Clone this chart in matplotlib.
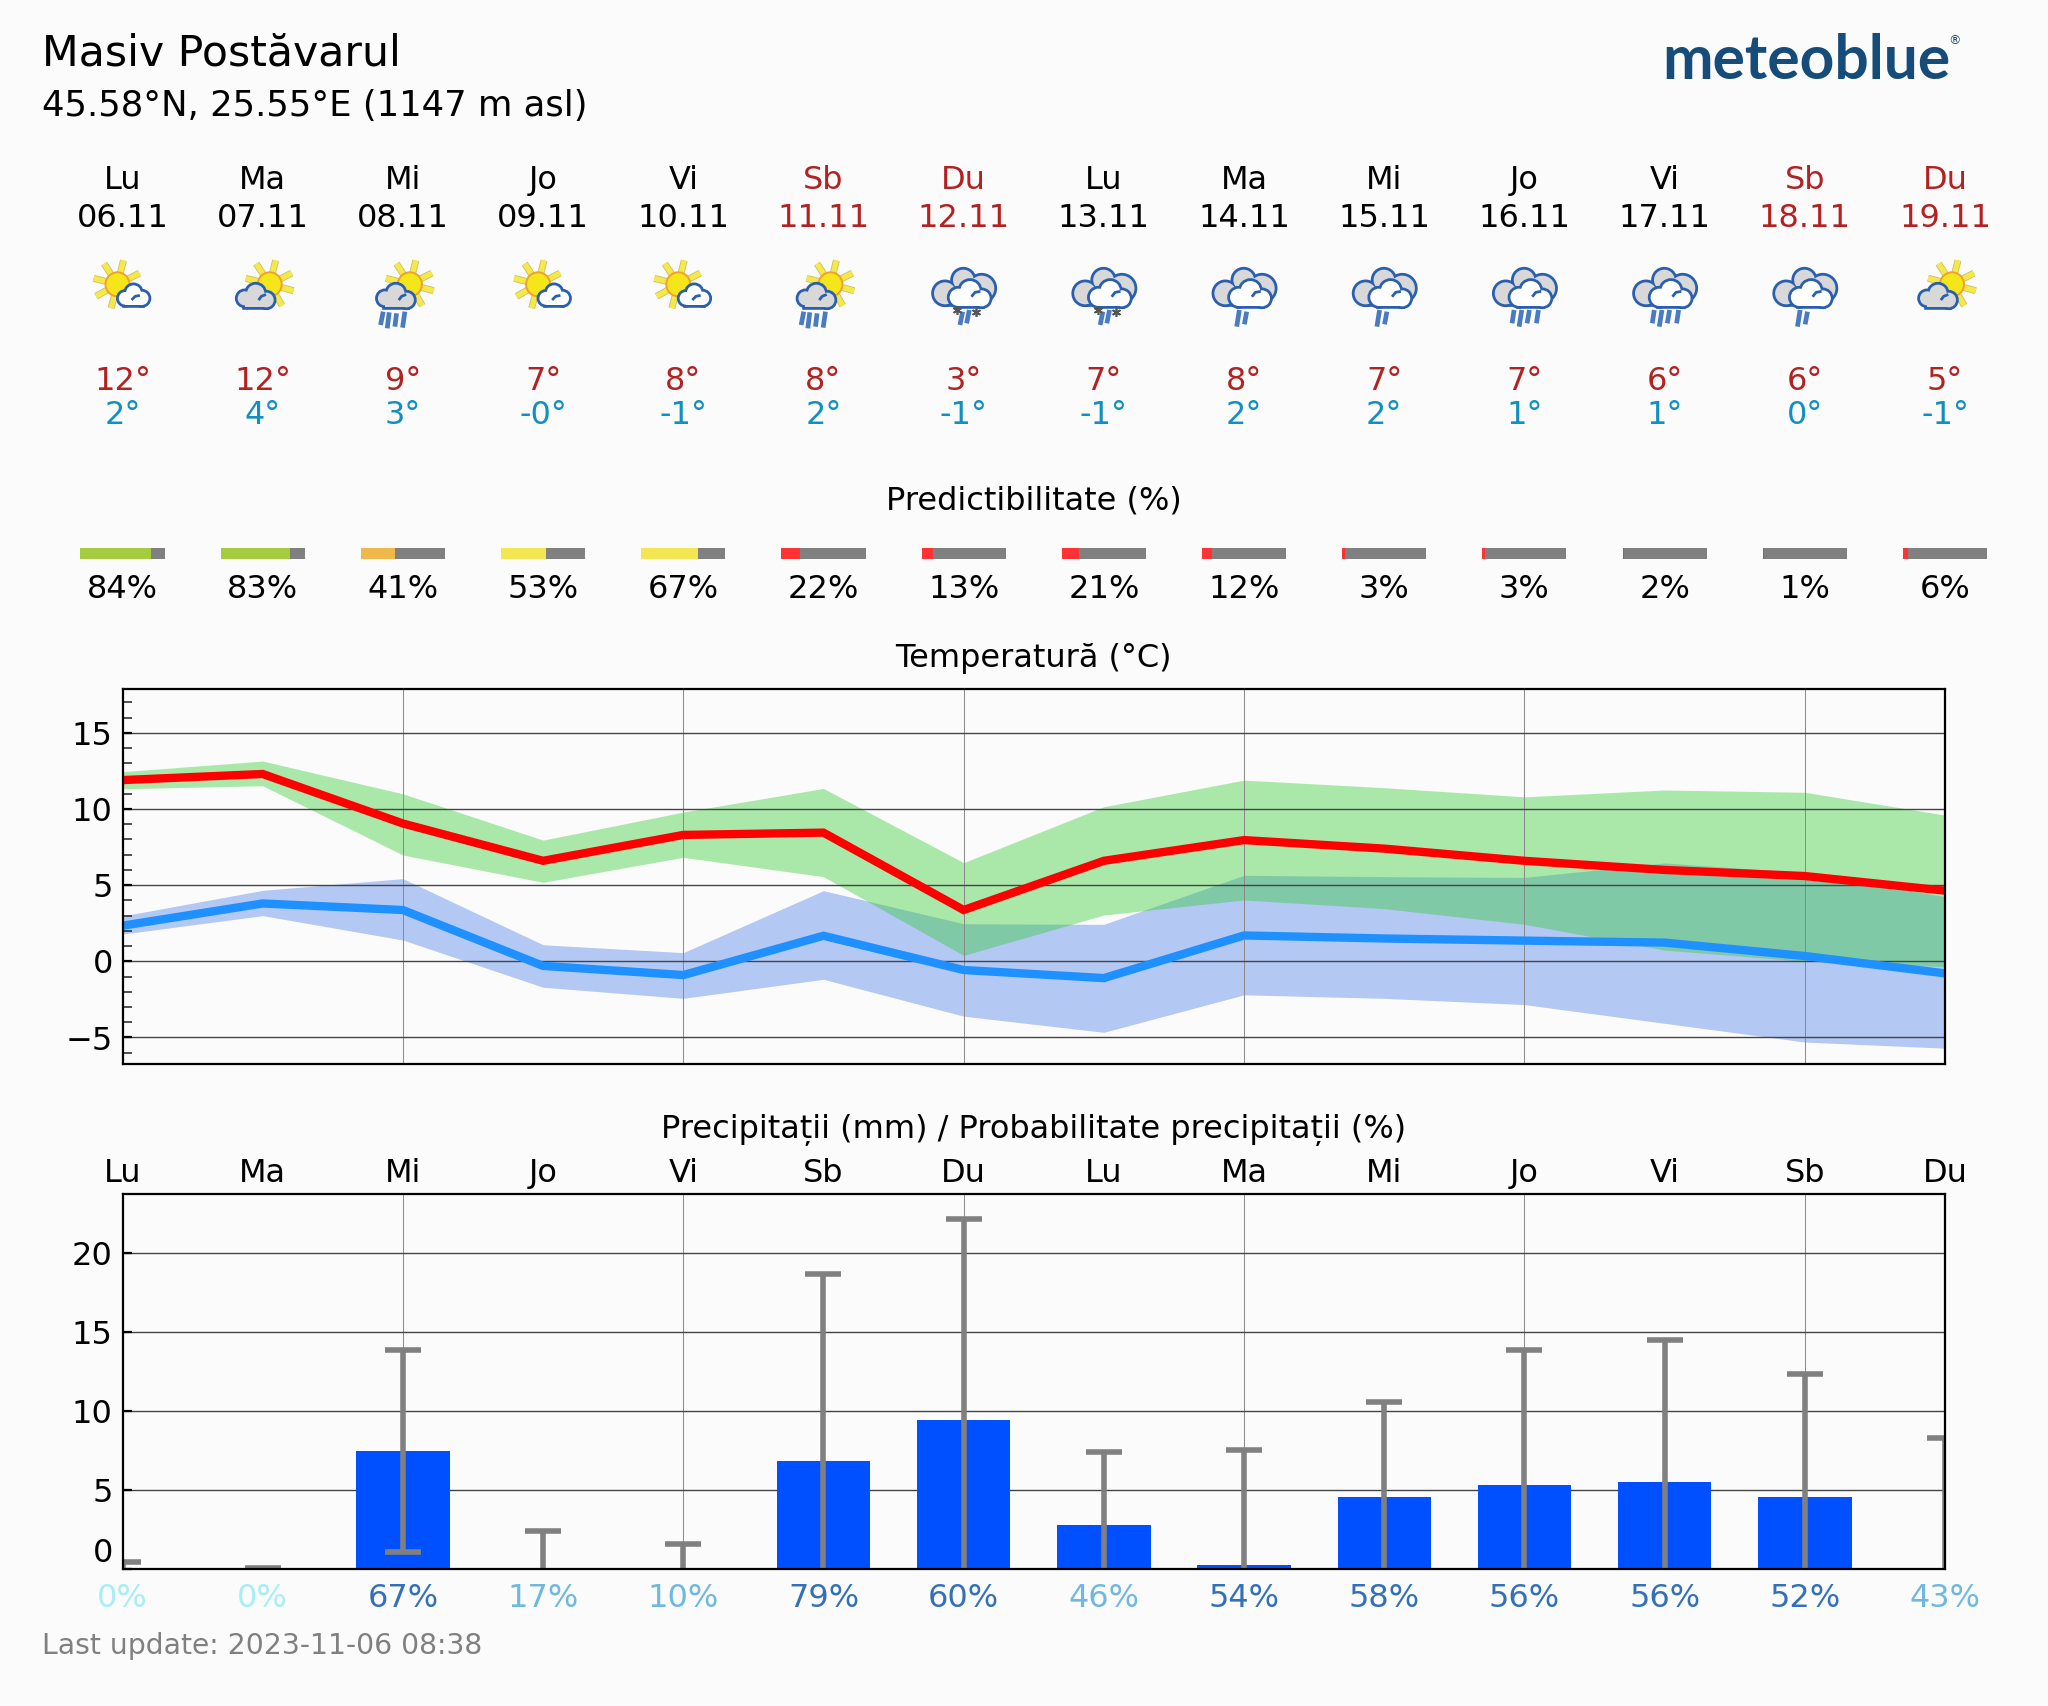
import matplotlib
matplotlib.use('Agg')
import matplotlib.pyplot as plt
from matplotlib.lines import Line2D
from matplotlib.patches import Circle, Rectangle
from matplotlib.transforms import Affine2D
import numpy as np

W, H = 2048, 1706
BG = '#fbfbfb'
FS = 11.5

days = ['Lu', 'Ma', 'Mi', 'Jo', 'Vi', 'Sb', 'Du', 'Lu', 'Ma', 'Mi', 'Jo', 'Vi', 'Sb', 'Du']
dates = ['06.11', '07.11', '08.11', '09.11', '10.11', '11.11', '12.11',
         '13.11', '14.11', '15.11', '16.11', '17.11', '18.11', '19.11']
icons = ['sun_cloud', 'cloud_sun', 'cloud_sun_rain', 'sun_cloud', 'sun_cloud', 'cloud_sun_rain', 'dark_snow',
         'dark_snow', 'dark_rain2', 'dark_rain2', 'dark_rain4', 'dark_rain4', 'dark_rain2', 'cloud_sun']
max_labels = ['12°', '12°', '9°', '7°', '8°', '8°', '3°', '7°', '8°', '7°', '7°', '6°', '6°', '5°']
min_labels = ['2°', '4°', '3°', '-0°', '-1°', '2°', '-1°', '-1°', '2°', '2°', '1°', '1°', '0°', '-1°']

predictability = [84, 83, 41, 53, 67, 22, 13, 21, 12, 3, 3, 2, 1, 6]
pred_colors = ['#a5cc3e', '#a5cc3e', '#f0b84a', '#f4e552', '#f4e552', '#ff3333', '#ff3333',
               '#ff3333', '#ff3333', '#ff3333', '#ff3333', '#ff3333', '#ff3333', '#ff3333']

tmax = [11.9, 12.3, 9.05, 6.6, 8.3, 8.45, 3.37, 6.6, 7.96, 7.4, 6.6, 6.0, 5.6, 4.64]
tmax_hi = [12.45, 13.15, 11.0, 7.96, 9.8, 11.35, 6.48, 10.15, 11.9, 11.4, 10.8, 11.25, 11.1, 9.6]
tmax_lo = [11.33, 11.53, 6.98, 5.19, 6.83, 5.56, 0.39, 3.04, 4.03, 3.46, 2.43, 0.74, 0.0, -0.35]
tmin = [2.34, 3.8, 3.37, -0.3, -0.9, 1.68, -0.57, -1.1, 1.7, 1.5, 1.36, 1.23, 0.35, -0.79]
tmin_hi = [2.98, 4.66, 5.43, 1.09, 0.57, 4.64, 2.47, 2.43, 5.65, 5.56, 5.51, 6.46, 5.82, 4.25]
tmin_lo = [1.79, 3.0, 1.4, -1.7, -2.43, -1.18, -3.6, -4.66, -2.2, -2.43, -2.84, -4.07, -5.3, -5.7]

precip = [0, 0, 7.5, 0, 0, 6.83, 9.45, 2.83, 0.27, 4.6, 5.36, 5.53, 4.58, 0]
precip_hi = [0.46, 0.06, 13.86, 2.45, 1.6, 18.67, 22.17, 7.4, 7.55, 10.57, 13.86, 14.5, 12.38, 8.33]
precip_lo = [0, 0, 1.1, 0, 0, 0, 0, 0, 0, 0, 0, 0, 0, 0]
precip_prob = [0, 0, 67, 17, 10, 79, 60, 46, 54, 58, 56, 56, 52, 43]
prob_colors = ['#a8eef5', '#a8eef5', '#3370ba', '#6fb9e0', '#6fb9e0', '#3370ba', '#3370ba',
               '#6fb9e0', '#3370ba', '#3370ba', '#3370ba', '#3370ba', '#3370ba', '#6fb9e0']

x = np.arange(14)

# panel edges in pixels
LEFT, RIGHT = 122.5, 1945
def panel(top, bottom):
    return [LEFT / W, 1 - bottom / H, (RIGHT - LEFT) / W, (bottom - top) / H]

fig = plt.figure(figsize=(W / 200, (H + 0.01) / 200), dpi=200, facecolor=BG)

# strip that shares the day scale, y in pixels from the top
strip = fig.add_axes([LEFT / W, 0, (RIGHT - LEFT) / W, 1], facecolor='none')
strip.set_xlim(0, 13)
strip.set_ylim(H, 0)
strip.axis('off')

def txt(xv, y, s, **kw):
    strip.text(xv, y, s, ha='center', va='center', fontsize=FS, clip_on=False, **kw)

for i in x:
    c = '#b22222' if days[i] in ('Sb', 'Du') else 'black'
    txt(i, 180.5, days[i], color=c)
    txt(i, 218, dates[i], color=c)
    txt(i, 381.5, max_labels[i], color='#b22222')
    txt(i, 415.5, min_labels[i], color='#1090c0')
    txt(i, 589.5, '%d%%' % predictability[i])
    txt(i, 1173, days[i])
    txt(i, 1598, '%d%%' % precip_prob[i], color=prob_colors[i])

txt(6.5, 501, 'Predictibilitate (%)')
txt(6.5, 658.5, 'Temperatură (°C)')
txt(6.5, 1130, 'Precipitații (mm) / Probabilitate precipitații (%)')

# predictability bars
pred = np.array(predictability) / 100
bar_w = 0.6
strip.bar(x, [11.3] * 14, bottom=548, width=bar_w, color='#808080', clip_on=False)
strip.bar(x - bar_w / 2, [11.3] * 14, bottom=548, width=pred * bar_w, align='edge',
          color=pred_colors, clip_on=False)

fig.text(42 / W, 1 - 53.5 / H, 'Masiv Postăvarul', fontsize=15.35, va='center', ha='left')
fig.text(42 / W, 1 - 106 / H, '45.58°N, 25.55°E (1147 m asl)', fontsize=12.8, va='center', ha='left')
fig.text(42 / W, 1 - 1646 / H, 'Last update: 2023-11-06 08:38', fontsize=10.2, color='gray', va='center', ha='left')
fig.text(1662 / W, 1 - 61 / H, 'meteoblue', fontsize=21.8, color='#154c79', family='Lato', weight='bold',
         va='center', ha='left')
fig.text(1955 / W, 1 - 41 / H, '®', fontsize=4.5, color='#154c79', va='center', ha='center')

# temperature panel
ax = fig.add_axes(panel(688.7, 1063.7), facecolor=BG)
ax.fill_between(x, tmin_lo, tmin_hi, color='#4a7deb', alpha=0.4, lw=0)
ax.fill_between(x, tmax_lo, tmax_hi, color='#32cd32', alpha=0.4, lw=0)
ax.plot(x, tmax, color='red', lw=3, solid_joinstyle='miter')
ax.plot(x, tmin, color='dodgerblue', lw=3, solid_joinstyle='miter')
ax.set_xlim(0, 13)
ax.set_ylim(-6.72, 17.9)
ax.set_xticks(x[2::2])
ax.set_xticklabels([])
ax.set_yticks([-5, 0, 5, 10, 15])
ax.set_yticks(np.arange(-6, 18), minor=True)
ax.tick_params(axis='x', length=0)
ax.tick_params(axis='y', which='both', direction='in', labelsize=FS)
ax.tick_params(axis='y', which='minor', length=3.2, color='#333333')
ax.tick_params(axis='y', which='major', length=3.2)
ax.grid(axis='y', color='#444444', lw=0.5)
ax.grid(axis='x', color='#888888', lw=0.35)

# precipitation panel
ax2 = fig.add_axes(panel(1194.3, 1569.3), facecolor=BG)
ax2.set_axisbelow(True)
ax2.bar(x, precip, width=2 / 3, color='#0050ff')
ax2.vlines(x, precip_lo, precip_hi, color='gray', lw=2)
ax2.plot(x, precip_hi, ls='none', marker='_', ms=13, mew=2, color='gray')
lo_x = [i for i in x if precip_lo[i] > 0]
ax2.plot(lo_x, [precip_lo[i] for i in lo_x], ls='none', marker='_', ms=13, mew=2, color='gray')
ax2.set_xlim(0, 13)
ax2.set_ylim(0, 23.73)
ax2.set_xticks(x[2::2])
ax2.set_xticklabels([])
ax2.set_yticks([0, 5, 10, 15, 20])
ax2.tick_params(axis='x', length=0)
ax2.tick_params(axis='y', direction='in', length=3.2, labelsize=FS)
ax2.get_yticklabels()[0].set_va('bottom')
ax2.grid(axis='y', color='#444444', lw=0.5)
ax2.grid(axis='x', color='#888888', lw=0.35)

# weather icons, local units are 1/3 px with y going down from the icon row
OUT = '#2a5fb0'
RAIN = '#4a7bc0'

def icon_tf(i):
    cx = strip.transData.transform((i, 255))
    return Affine2D().scale(1 / 3, -1 / 3).translate(cx[0], cx[1])

def sun(tf, sx, sy):
    for a in np.radians([27, 76, 123, 166, 209, 255, 300, 345]):
        p = [sx + 34 * np.cos(a), sx + 74 * np.cos(a)], [sy - 34 * np.sin(a), sy - 74 * np.sin(a)]
        fig.add_artist(Line2D(*p, transform=tf, color='#c9bf6a', lw=2.5, solid_capstyle='butt', zorder=3))
        fig.add_artist(Line2D(*p, transform=tf, color='#f5e94a', lw=1.9, solid_capstyle='butt', zorder=3))
    fig.add_artist(Circle((sx, sy), 36, transform=tf, fc='#f5e61a', ec='#f0a030', lw=0.7, zorder=3))

def cloud(tf, lobes, base, fill, z, hook=None):
    xs = [c[0] for c in lobes]
    for cx_, cy_, r in lobes:
        fig.add_artist(Circle((cx_, cy_), r, transform=tf, fc=fill, ec=OUT, lw=2, zorder=z))
    fig.add_artist(Rectangle((xs[0], base - 25), xs[-1] - xs[0], 25, transform=tf, fc=fill, ec=OUT, lw=2, zorder=z))
    for cx_, cy_, r in lobes:
        fig.add_artist(Circle((cx_, cy_), r, transform=tf, fc=fill, ec='none', zorder=z + 0.1))
    fig.add_artist(Rectangle((xs[0], base - 25), xs[-1] - xs[0], 25, transform=tf, fc=fill, ec='none', zorder=z + 0.1))
    if hook:
        fig.add_artist(Line2D(hook[0], hook[1], transform=tf, color=OUT, lw=1, zorder=z + 0.2))

def strokes(tf, segs):
    for x0, y0, x1, y1 in segs:
        fig.add_artist(Line2D([x0, x1], [y0, y1], transform=tf, color=RAIN, lw=1.7, solid_capstyle='butt', zorder=3))

def dark_cloud(tf):
    cloud(tf, [(-56, 115, 33), (-1, 75, 31), (54, 100, 38)], 148, '#d8d8d8', 4)
    cloud(tf, [(-16, 127, 26), (19, 107, 29), (54, 130, 24)], 152, 'white', 5, ([26, 34, 46], [122, 112, 110]))

def draw_icon(i, kind):
    tf = icon_tf(i)
    if kind == 'sun_cloud':
        sun(tf, -15, 88)
        cloud(tf, [(8, 130, 19), (33, 113, 22), (58, 130, 20)], 149, 'white', 4, ([30, 38, 48], [132, 124, 122]))
    elif kind in ('cloud_sun', 'cloud_sun_rain'):
        sun(tf, 21, 88)
        cloud(tf, [(-54, 130, 21), (-21, 115, 26), (11, 135, 22)], 155, '#d8d8d8', 4, ([-10, -4, 6], [132, 124, 120]))
        if kind == 'cloud_sun_rain':
            strokes(tf, [(-67, 210, -59, 170), (-47, 220, -41, 172), (-24, 215, -19, 175), (-1, 218, 6, 170)])
    else:
        if kind == 'dark_snow':
            strokes(tf, [(-11, 210, -3, 170), (9, 205, 17, 165)])
            for sx, sy in [(-19, 165), (36, 172)]:
                fig.add_artist(Line2D([sx], [sy], transform=tf, marker=(6, 2, 0), ms=3.2, mew=0.6,
                                      color='#555555', zorder=6))
        elif kind == 'dark_rain2':
            strokes(tf, [(-22, 215, -14, 165), (1, 208, 8, 170)])
        else:
            strokes(tf, [(-37, 205, -31, 165), (-16, 215, -8, 165), (8, 205, 15, 165), (36, 205, 42, 165)])
        dark_cloud(tf)

for i in x:
    draw_icon(i, icons[i])

fig.savefig('out.png', dpi=200, facecolor=BG)
